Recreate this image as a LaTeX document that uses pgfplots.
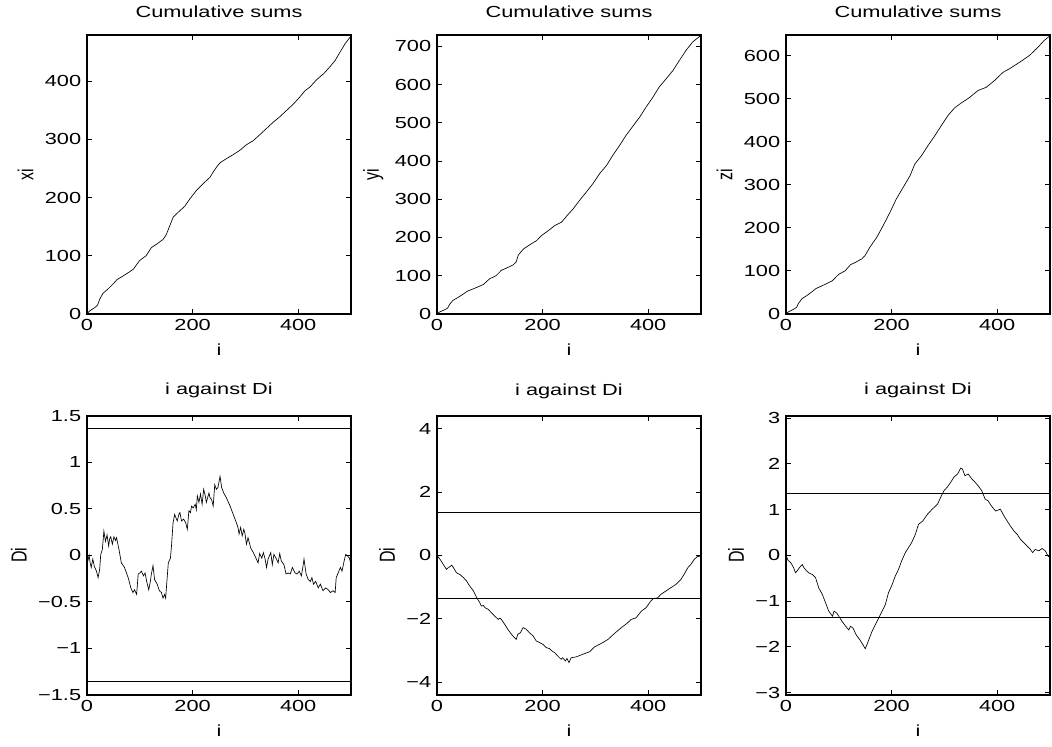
\documentclass[border=0pt]{standalone}
\usepackage{fontspec}
\setmainfont{Liberation Sans}
\usepackage{graphicx}
\usepackage{pgfplots}
\pgfplotsset{compat=1.18}

% the reference is stretched sideways, so the text is too
\newcommand\sx[1]{\scalebox{1.36}[1]{#1}}
\newcommand\sy[1]{\scalebox{1}[1.36]{#1}}

\pgfplotsset{
  mlab/.style={
    scale only axis, width=158.4pt, height=167.4pt,
    anchor=south west,
    xmin=0, xmax=500,
    xtick={0,200,400}, xticklabels={\sx{0},\sx{200},\sx{400}},
    tick align=inside, tick pos=both,
    major tick length=3pt,
    axis line style={line width=0.8pt},
    tick style={line width=0.5pt, black},
    ticklabel style={font=\fontsize{9.6}{11}\selectfont},
    label style={font=\fontsize{9.6}{11}\selectfont},
    title style={font=\fontsize{9.6}{11}\selectfont, yshift=1pt},
    xlabel style={yshift=-1pt},
    xlabel={\sx{i}},
    cycle list={{black, mark=none, line width=0.6pt}},
  },
  crit/.style={black, mark=none, line width=0.6pt},
}

\begin{document}
\begin{tikzpicture}
\path (-52.2pt,187pt) rectangle (579pt,-259.4pt);

% ---- top row: cumulative sums ----
\begin{axis}[mlab, at={(0pt,0pt)}, ymin=0, ymax=480,
  title={\sx{Cumulative sums}}, ylabel={\sy{xi}},
  ytick={0,100,200,300,400},
  yticklabels={\sx{0},\sx{100},\sx{200},\sx{300},\sx{400}}]
\addplot coordinates {(0,0)(5,5)(10,8)(15,11)(20,15)(24,25)(30,35)(40,43)(50,52)(57,59)(68,65)(80,72)(88,77)(95,86)(100,92)(112,100)(122,114)(132,120)(144,128)(150,136)
(157,152)(163,166)(173,175)(185,185)(195,198)(207,212)(220,224)(233,235)(239,244)(245,252)(252,260)(264,267)(277,274)(289,281)(302,291)(315,298)(327,308)(340,319)(353,330)(365,339)(378,350)(391,361)(403,373)(413,384)(422,390)(435,403)(448,413)(460,425)(470,436)(479,450)(489,465)(500,478)};
\end{axis}

\begin{axis}[mlab, at={(210pt,0pt)}, ymin=0, ymax=730,
  title={\sx{Cumulative sums}}, ylabel={\sy{yi}},
  ytick={0,100,...,700},
  yticklabels={\sx{0},\sx{100},\sx{200},\sx{300},\sx{400},\sx{500},\sx{600},\sx{700}}]
\addplot coordinates {(0,0)(5,5)(10,8)(15,11)(20,15)(24,25)(30,35)(40,43)(50,52)(57,59)(68,65)(80,72)(88,77)(95,86)(100,92)(112,100)(122,114)(132,120)(144,128)(150,136)
(154,154)(164,170)(176,181)(189,192)(198,205)(211,218)(223,231)(236,240)(245,255)(258,275)(270,297)(283,319)(296,342)(308,367)(321,388)(333,415)(346,441)(358,467)(371,491)(384,515)(396,541)(409,567)(421,594)(434,615)(447,637)(459,663)(472,690)(484,711)(500,729)};
\end{axis}

\begin{axis}[mlab, at={(419.4pt,0pt)}, ymin=0, ymax=648,
  title={\sx{Cumulative sums}}, ylabel={\sy{zi}},
  ytick={0,100,...,600},
  yticklabels={\sx{0},\sx{100},\sx{200},\sx{300},\sx{400},\sx{500},\sx{600}}]
\addplot coordinates {(0,0)(5,5)(10,8)(15,11)(20,15)(24,25)(30,35)(40,43)(50,52)(57,59)(68,65)(80,72)(88,77)(95,86)(100,92)(112,100)(122,114)(132,120)(144,128)(150,136)
(159,155)(172,178)(184,205)(197,236)(209,267)(222,294)(235,321)(244,348)(257,368)(269,391)(282,414)(294,437)(307,461)(319,478)(332,490)(340,496)(348,503)(364,519)(379,526)(395,542)(411,561)(423,569)(442,584)(461,600)(477,619)(489,635)(500,646)};
\end{axis}

% ---- bottom row: i against Di ----
\begin{axis}[mlab, at={(0pt,-228.6pt)}, ymin=-1.5, ymax=1.5,
  title={\sx{i against Di}}, ylabel={\sy{Di}},
  ytick={-1.5,-1,-0.5,0,0.5,1,1.5},
  yticklabels={\sx{−1.5},\sx{−1},\sx{−0.5},\sx{0},\sx{0.5},\sx{1},\sx{1.5}}]
\addplot coordinates {(0,0)(2,-0.05)(4,0)(6,-0.08)(8,-0.13)(11,-0.04)(14,-0.12)(18,-0.17)(21,-0.24)(24,-0.15)(26,0.01)(29,0.06)(32,0.26)(35,0.15)(38,0.22)(41,0.10)(43,0.18)(45,0.20)(48,0.12)(51,0.20)(54,0.16)(56,0.19)(61,0.05)(65,-0.08)(71,-0.13)(78,-0.24)(83,-0.35)(87,-0.40)(90,-0.37)(94,-0.42)(97,-0.20)(100,-0.19)(103,-0.17)(107,-0.22)(110,-0.19)(113,-0.28)(117,-0.37)(120,-0.28)(122,-0.20)(125,-0.11)(128,-0.26)(133,-0.31)(137,-0.38)(141,-0.40)(144,-0.46)(147,-0.42)(149,-0.46)(150,-0.38)(154,-0.08)(158,-0.03)(160,0.10)(163,0.35)(166,0.44)(168,0.41)(171,0.37)(174,0.44)(176,0.46)(179,0.37)(183,0.39)(187,0.35)(190,0.28)(193,0.48)(196,0.46)(198,0.53)(201,0.51)(205,0.55)(207,0.49)(209,0.64)(212,0.57)(215,0.66)(218,0.55)(221,0.71)(224,0.64)(226,0.57)(231,0.67)(233,0.62)(236,0.60)(239,0.53)(242,0.76)(245,0.71)(248,0.73)(252,0.85)(255,0.73)(259,0.67)(264,0.62)(271,0.53)(277,0.44)(283,0.35)(286,0.30)(288,0.23)(291,0.30)(294,0.21)(297,0.28)(299,0.24)(302,0.12)(305,0.19)(310,0.08)(315,0.03)(320,-0.03)(324,-0.08)(327,0.02)(331,-0.03)(334,0.03)(337,-0.03)(340,-0.13)(343,-0.04)(348,0.03)(351,-0.10)(354,0.01)(358,-0.03)(362,-0.08)(365,0.02)(368,-0.06)(373,-0.10)(377,-0.20)(381,-0.19)(385,-0.20)(389,-0.13)(394,-0.19)(398,-0.20)(402,-0.17)(406,-0.22)(409,-0.12)(411,-0.04)(415,-0.20)(419,-0.26)(423,-0.28)(426,-0.24)(429,-0.31)(433,-0.28)(438,-0.35)(442,-0.31)(447,-0.38)(452,-0.35)(457,-0.37)(461,-0.40)(466,-0.38)(470,-0.40)(472,-0.24)(477,-0.17)(480,-0.13)(483,-0.17)(487,-0.06)(490,0.01)(494,-0.01)(497,-0.03)(500,-0.10)};
\addplot[crit] coordinates {(0,1.36)(500,1.36)};
\addplot[crit] coordinates {(0,-1.36)(500,-1.36)};
\end{axis}

\begin{axis}[mlab, at={(210pt,-228.6pt)}, ymin=-4.4, ymax=4.4,
  title={\sx{i against Di}}, ylabel={\sy{Di}},
  ytick={-4,-2,0,2,4},
  yticklabels={\sx{−4},\sx{−2},\sx{0},\sx{2},\sx{4}}]
\addplot coordinates {(0,0)(6,-0.13)(12,-0.29)(18,-0.44)(21,-0.39)(24,-0.36)(28,-0.31)(33,-0.44)(37,-0.55)(43,-0.60)(50,-0.70)(56,-0.81)(62,-0.97)(69,-1.12)(75,-1.33)(81,-1.49)(84,-1.60)(88,-1.58)(91,-1.65)(97,-1.70)(103,-1.81)(109,-1.91)(116,-2.02)(119,-1.98)(122,-2.02)(128,-2.17)(134,-2.33)(141,-2.49)(147,-2.60)(150,-2.65)(153,-2.49)(158,-2.44)(163,-2.28)(169,-2.33)(175,-2.44)(182,-2.54)(188,-2.70)(194,-2.75)(201,-2.81)(207,-2.91)(213,-2.94)(218,-3.02)(223,-3.07)(229,-3.18)(235,-3.28)(238,-3.23)(243,-3.33)(246,-3.25)(250,-3.38)(254,-3.23)(264,-3.20)(276,-3.12)(289,-3.04)(298,-2.89)(305,-2.83)(314,-2.75)(324,-2.65)(333,-2.51)(342,-2.38)(349,-2.28)(358,-2.17)(368,-2.02)(377,-1.97)(387,-1.76)(396,-1.65)(405,-1.44)(410,-1.36)(418,-1.34)(424,-1.23)(434,-1.12)(443,-1.02)(453,-0.91)(462,-0.76)(468,-0.60)(475,-0.39)(481,-0.28)(487,-0.13)(493,-0.04)(500,-0.02)};
\addplot[crit] coordinates {(0,1.36)(500,1.36)};
\addplot[crit] coordinates {(0,-1.36)(500,-1.36)};
\end{axis}

\begin{axis}[mlab, at={(419.4pt,-228.6pt)}, ymin=-3.05, ymax=3.05,
  title={\sx{i against Di}}, ylabel={\sy{Di}},
  ytick={-3,-2,-1,0,1,2,3},
  yticklabels={\sx{−3},\sx{−2},\sx{−1},\sx{0},\sx{1},\sx{2},\sx{3}}]
\addplot coordinates {(0,0)(4,-0.11)(9,-0.16)(14,-0.26)(18,-0.38)(21,-0.34)(26,-0.26)(31,-0.20)(34,-0.27)(39,-0.34)(43,-0.38)(50,-0.42)(56,-0.49)(62,-0.71)(69,-0.86)(75,-1.04)(81,-1.22)(88,-1.33)(91,-1.22)(96,-1.26)(100,-1.33)(106,-1.44)(113,-1.55)(119,-1.63)(122,-1.55)(127,-1.59)(133,-1.74)(140,-1.85)(146,-1.96)(150,-2.04)(153,-1.96)(158,-1.81)(163,-1.66)(169,-1.52)(175,-1.38)(182,-1.22)(188,-1.08)(194,-0.82)(201,-0.64)(207,-0.45)(213,-0.31)(219,-0.12)(226,0.06)(232,0.17)(238,0.28)(245,0.46)(251,0.68)(259,0.75)(268,0.90)(277,1.01)(287,1.12)(293,1.27)(299,1.41)(306,1.50)(312,1.60)(318,1.71)(325,1.78)(331,1.91)(334,1.89)(339,1.74)(345,1.78)(352,1.67)(358,1.60)(364,1.52)(371,1.41)(377,1.23)(383,1.19)(389,1.08)(397,0.97)(406,1.01)(413,0.86)(419,0.75)(425,0.64)(432,0.53)(438,0.46)(444,0.35)(450,0.28)(457,0.20)(463,0.13)(467,0.06)(472,0.13)(479,0.10)(485,0.15)(491,0.10)(496,-0.01)(500,-0.05)};
\addplot[crit] coordinates {(0,1.36)(500,1.36)};
\addplot[crit] coordinates {(0,-1.36)(500,-1.36)};
\end{axis}
\end{tikzpicture}
\end{document}
